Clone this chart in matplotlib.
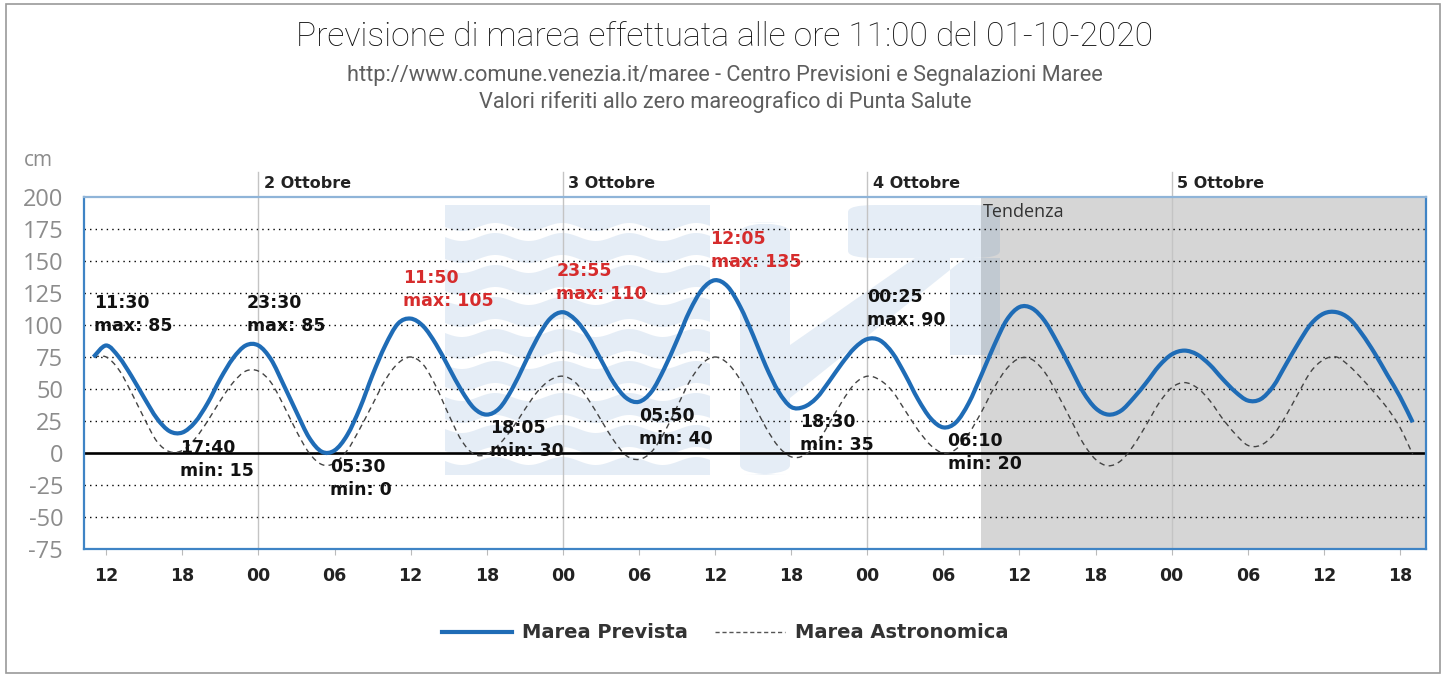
import numpy as np
import pandas as pd
import matplotlib
matplotlib.use("Agg")
import matplotlib.pyplot as plt
import matplotlib.dates as mdates
from matplotlib.patches import Rectangle, FancyBboxPatch, Polygon, PathPatch
from matplotlib.path import Path
from matplotlib.lines import Line2D

# hourly samples, 01-10 11:00 -> 05-10 19:00
times = pd.date_range("2020-10-01 11:00", "2020-10-05 19:00", freq="h")

marea_prevista = [
    75, 84, 75, 60, 43, 27, 17, 16, 24, 39, 58, 74, 84,
    84, 73, 53, 32, 12, 1, 2, 14, 35, 61, 84, 101, 105, 99, 85, 67, 49, 35, 30, 35, 50, 70, 90, 105,
    110, 104, 91, 73, 55, 43, 40, 48, 66, 88, 111, 128, 135, 130, 114, 92, 68, 48, 36, 36, 43, 56, 70, 82,
    89, 88, 78, 61, 42, 27, 20, 24, 39, 61, 84, 104, 114, 113, 103, 86, 67, 48, 35, 30, 33, 43, 55, 68,
    77, 80, 77, 69, 58, 48, 41, 42, 52, 69, 86, 101, 109, 110, 105, 93, 78, 61, 44, 24,
]
marea_astronomica = [
    75, 75, 65, 47, 27, 9, 1, 2, 11, 25, 41, 55, 64,
    64, 55, 37, 17, 0, -9, -8, 2, 19, 38, 57, 70, 75, 69, 52, 30, 10, -1, -1, 7, 19, 34, 48, 57,
    60, 55, 42, 26, 10, -2, -5, 1, 16, 36, 56, 70, 75, 70, 57, 39, 20, 5, -3, -2, 7, 23, 40, 54,
    60, 57, 48, 33, 18, 6, 0, 3, 15, 32, 51, 66, 74, 73, 63, 46, 27, 8, -5, -10, -6, 6, 22, 39,
    51, 55, 51, 41, 27, 15, 6, 6, 14, 29, 47, 64, 73, 75, 68, 58, 47, 35, 20, -1,
]

ext_times = pd.to_datetime([
    "2020-10-01 11:30", "2020-10-01 17:40", "2020-10-01 23:30", "2020-10-02 05:30",
    "2020-10-02 11:50", "2020-10-02 18:05", "2020-10-02 23:55", "2020-10-03 05:50",
    "2020-10-03 12:05", "2020-10-03 18:30", "2020-10-04 00:25", "2020-10-04 06:10",
])
ext_values = [85, 15, 85, 0, 105, 30, 110, 40, 135, 35, 90, 20]
ext_kind = ["max", "min", "max", "min", "max", "min", "max", "min", "max", "min", "max", "min"]

day_starts = pd.to_datetime(["2020-10-02", "2020-10-03", "2020-10-04", "2020-10-05"])
day_labels = ["2 Ottobre", "3 Ottobre", "4 Ottobre", "5 Ottobre"]
tendenza_start = pd.Timestamp("2020-10-04 09:00")
x_start = pd.Timestamp("2020-10-01 10:15")
x_end = pd.Timestamp("2020-10-05 20:03")
y_ticks = list(range(-75, 201, 25))

BLUE = "#1f6cb6"
RED = "#d62c2c"
TITLE_FONT = ["Roboto", "DejaVu Sans"]


def spline(ax, x, y, **kw):
    # smooth (spline-like) drawing of the sampled series through every point
    p = np.column_stack([mdates.date2num(x), np.asarray(y, float)])
    n = len(p)
    verts, codes = [p[0]], [Path.MOVETO]
    for i in range(n - 1):
        pm = p[i - 1] if i > 0 else p[i]
        pn = p[i + 2] if i + 2 < n else p[i + 1]
        verts += [p[i] + (p[i + 1] - pm) / 6, p[i + 1] - (pn - p[i]) / 6, p[i + 1]]
        codes += [Path.CURVE4] * 3
    ax.add_patch(PathPatch(Path(verts, codes), fill=False, **kw))


W, H = 1450, 677
fig = plt.figure(figsize=(W / 100, H / 100), dpi=100)
ax = fig.add_axes([84 / W, 128 / H, 1342 / W, 352 / H])

# outer frame
fig.patches.append(Rectangle((6 / W, 4 / H), 1434 / W, 669 / H, transform=fig.transFigure,
                             fill=False, edgecolor="#9a9a9a", lw=1.2))

ax.set_xlim(x_start, x_end)
ax.set_ylim(-75, 200)

# tendenza zone
ax.axvspan(tendenza_start, x_end, color="#d6d6d6", zorder=0.1, lw=0)
ax.annotate("Tendenza", xy=(tendenza_start, 1), xycoords=("data", "axes fraction"),
            xytext=(1, -11), textcoords="offset points", ha="left", va="center",
            fontsize=13, color="#333333", family=["Open Sans", "DejaVu Sans"])


# watermark (logo), pixel coords converted to axes fraction
def px(xp, yp):
    return ((np.asarray(xp) - 84) / 1342, (549 - np.asarray(yp)) / 352)


wm = dict(facecolor="#2f6fb5", alpha=0.12, lw=0, zorder=0.3, transform=ax.transAxes)
xx = np.linspace(445, 710, 200)
for top in range(205, 470, 32):
    yt = top + 4 * np.sin(2 * np.pi * (xx - 445) / 67)
    yb = np.minimum(yt + 22, 475)
    if top == 205:
        yt = np.full_like(xx, 205.0)
    xa, ya_t = px(xx, yt)
    _, ya_b = px(xx, yb)
    ax.add_patch(Polygon(np.column_stack([np.r_[xa, xa[::-1]], np.r_[ya_t, ya_b[::-1]]]), **wm))
bx, by = px(740, 475)
bx2, by2 = px(790, 205)
ax.add_patch(FancyBboxPatch((bx, by), bx2 - bx, by2 - by - 0.05,
                            boxstyle="round,pad=0,rounding_size=0.035", mutation_aspect=352 / 1342 * 3, **wm))
tx, ty = px(848, 258)
tx2, ty2 = px(1000, 205)
ax.add_patch(FancyBboxPatch((tx, ty), tx2 - tx, ty2 - ty,
                            boxstyle="round,pad=0,rounding_size=0.02", **wm))
shape = [(790, 345), (915, 258), (950, 258), (950, 355), (1000, 355), (1000, 258), (965, 258), (790, 398)]
sx, sy = px([p[0] for p in shape], [p[1] for p in shape])
ax.add_patch(Polygon(np.column_stack([sx, sy]), **wm))

# grid
for v in y_ticks[1:-1]:
    if v != 0:
        ax.axhline(v, color="black", lw=1.0, ls=(0, (1, 3)), zorder=0.5)
ax.axhline(0, color="black", lw=1.9, zorder=1.5)
for d, lab in zip(day_starts, day_labels):
    ax.axvline(d, ymin=0, ymax=1.072, color="#c4c4c4", lw=1.0, zorder=0.4, clip_on=False)
    ax.annotate(lab, xy=(d, 1), xycoords=("data", "axes fraction"), xytext=(4, 9.5),
                textcoords="offset points", ha="left", va="center", fontsize=11.5,
                fontweight="bold", color="#222222")

# series
spline(ax, times, marea_astronomica, edgecolor="#444444", lw=1.0, ls=(0, (4, 3)), zorder=2)
spline(ax, times, marea_prevista, edgecolor=BLUE, lw=3.0, zorder=3, capstyle="butt")

# max / min labels
for t, v, k in zip(ext_times, ext_values, ext_kind):
    col = RED if (k == "max" and v >= 100) else "#111111"
    txt = f"{t:%H:%M}\n{k}: {v}"
    if k == "max":
        ax.annotate(txt, xy=(t, v), xytext=(-4, 6.5), textcoords="offset points",
                    ha="left", va="bottom", fontsize=12.5, fontweight="bold", color=col,
                    linespacing=1.35, zorder=5)
    else:
        ax.annotate(txt, xy=(t, v), xytext=(1.5, -3.5), textcoords="offset points",
                    ha="left", va="top", fontsize=12.5, fontweight="bold", color=col,
                    linespacing=1.35, zorder=5)

# axes styling
for s in ax.spines.values():
    s.set_color("#3f84c5")
    s.set_linewidth(1.6)
ax.spines["top"].set_color("#8fb4d8")
ax.set_yticks(y_ticks)
ax.set_yticklabels([str(v) for v in y_ticks], fontsize=17, color="#8c8c8c",
                   family=["Open Sans", "DejaVu Sans"])
ax.tick_params(axis="y", length=0, pad=15)
ax.set_xticks(pd.date_range("2020-10-01 12:00", "2020-10-05 18:00", freq="6h"))
ax.xaxis.set_major_formatter(mdates.DateFormatter("%H"))
ax.tick_params(axis="x", length=4, color="#bbbbbb", pad=9, labelsize=12.5, labelcolor="#222222")
for lbl in ax.get_xticklabels():
    lbl.set_fontweight("bold")

fig.text(38 / W, 1 - 160 / H, "cm", ha="center", va="center", fontsize=15, color="#8c8c8c",
         family=["Open Sans", "DejaVu Sans"])

# titles
fig.text(0.5, 1 - 37 / H, "Previsione di marea effettuata alle ore 11:00 del 01-10-2020",
         ha="center", va="center", fontsize=24.2, color="#111111", fontweight="light",
         family=TITLE_FONT)
fig.text(0.5, 1 - 76 / H, "http://www.comune.venezia.it/maree - Centro Previsioni e Segnalazioni Maree",
         ha="center", va="center", fontsize=15.7, color="#5e5e5e",
         family=TITLE_FONT)
fig.text(0.5, 1 - 102 / H, "Valori riferiti allo zero mareografico di Punta Salute",
         ha="center", va="center", fontsize=15.7, color="#5e5e5e",
         family=TITLE_FONT)

handles = [Line2D([], [], color=BLUE, lw=3.0),
           Line2D([], [], color="#555555", lw=1.0, ls=(0, (3, 2)))]
fig.legend(handles, ["Marea Prevista", "Marea Astronomica"], loc="center",
           bbox_to_anchor=(0.5, 1 - 633 / H), ncol=2, frameon=False, handlelength=3.6,
           handletextpad=0.5, columnspacing=1.4,
           prop=dict(size=14, weight="bold"), labelcolor="#333333")

fig.savefig("out.png", dpi=100)
